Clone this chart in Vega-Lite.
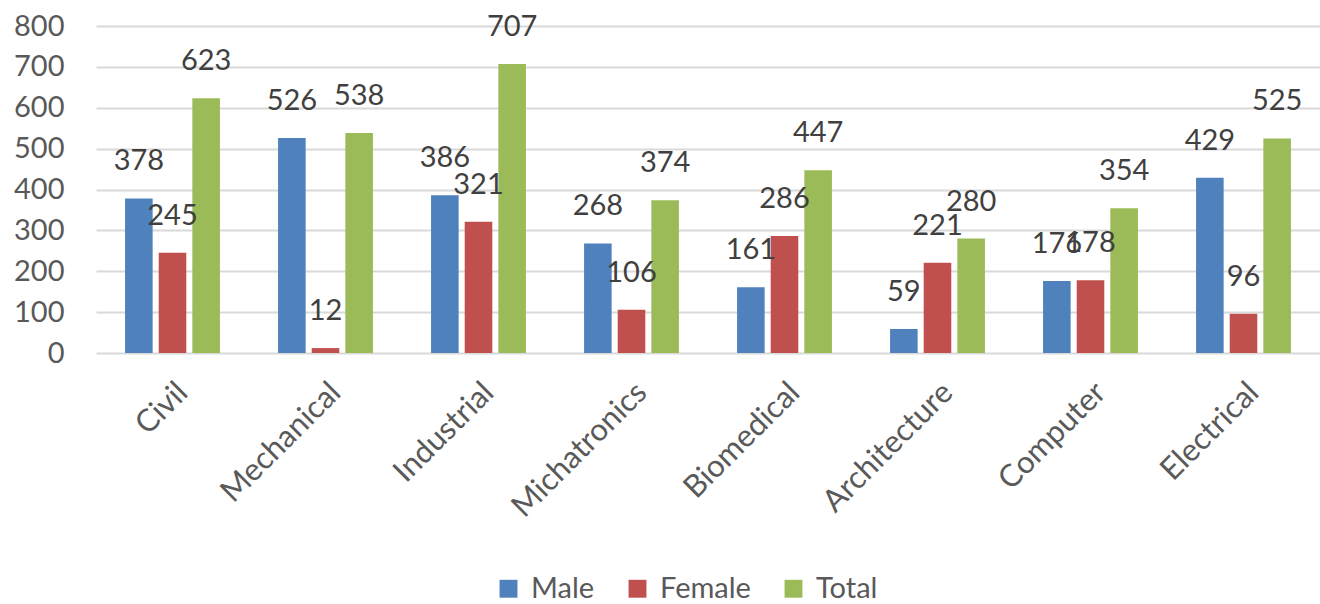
{
  "$schema": "https://vega.github.io/schema/vega-lite/v6.json",
  "width": 1224,
  "height": 327,
  "autosize": {"type": "none"},
  "padding": {"left": 96, "top": 26, "right": 0, "bottom": 251},
  "background": "white",
  "config": {
    "view": {"stroke": null},
    "font": "Lato"
  },
  "data": {
    "values": [
      {"dept": "Civil", "series": "Male", "value": 378},
      {"dept": "Civil", "series": "Female", "value": 245},
      {"dept": "Civil", "series": "Total", "value": 623},
      {"dept": "Mechanical", "series": "Male", "value": 526},
      {"dept": "Mechanical", "series": "Female", "value": 12},
      {"dept": "Mechanical", "series": "Total", "value": 538},
      {"dept": "Industrial", "series": "Male", "value": 386},
      {"dept": "Industrial", "series": "Female", "value": 321},
      {"dept": "Industrial", "series": "Total", "value": 707},
      {"dept": "Michatronics", "series": "Male", "value": 268},
      {"dept": "Michatronics", "series": "Female", "value": 106},
      {"dept": "Michatronics", "series": "Total", "value": 374},
      {"dept": "Biomedical", "series": "Male", "value": 161},
      {"dept": "Biomedical", "series": "Female", "value": 286},
      {"dept": "Biomedical", "series": "Total", "value": 447},
      {"dept": "Architecture", "series": "Male", "value": 59},
      {"dept": "Architecture", "series": "Female", "value": 221},
      {"dept": "Architecture", "series": "Total", "value": 280},
      {"dept": "Computer", "series": "Male", "value": 176},
      {"dept": "Computer", "series": "Female", "value": 178},
      {"dept": "Computer", "series": "Total", "value": 354},
      {"dept": "Electrical", "series": "Male", "value": 429},
      {"dept": "Electrical", "series": "Female", "value": 96},
      {"dept": "Electrical", "series": "Total", "value": 525}
    ]
  },
  "encoding": {
    "x": {
      "field": "dept",
      "type": "nominal",
      "sort": null,
      "scale": {"paddingInner": 0.38, "paddingOuter": 0.19},
      "axis": {
        "title": null,
        "labelAngle": -45,
        "labelFontSize": 31,
        "labelColor": "#595959",
        "labelPadding": 24,
        "labelLimit": 400,
        "domain": false,
        "ticks": false
      }
    },
    "xOffset": {
      "field": "series",
      "type": "nominal",
      "sort": ["Male", "Female", "Total"],
      "scale": {"paddingInner": 0.18}
    },
    "y": {
      "field": "value",
      "type": "quantitative",
      "scale": {"domain": [0, 800], "nice": false},
      "axis": {
        "title": null,
        "values": [0, 100, 200, 300, 400, 500, 600, 700, 800],
        "labelFontSize": 29,
        "labelColor": "#595959",
        "labelPadding": 32,
        "domain": false,
        "ticks": false,
        "gridColor": "#d9d9d9",
        "gridWidth": 2
      }
    }
  },
  "layer": [
    {
      "mark": {"type": "bar"},
      "encoding": {
        "color": {
          "field": "series",
          "type": "nominal",
          "sort": ["Male", "Female", "Total"],
          "scale": {"domain": ["Male", "Female", "Total"], "range": ["#4F81BD", "#C0504D", "#9BBB59"]},
          "legend": {
            "title": null,
            "orient": "none",
            "direction": "horizontal",
            "legendX": 398,
            "legendY": 548,
            "symbolType": "square",
            "symbolSize": 320,
            "symbolStrokeWidth": 0,
            "labelFontSize": 29,
            "labelColor": "#595959",
            "labelOffset": 8,
            "columnPadding": 28
          }
        }
      }
    },
    {
      "mark": {"type": "text", "dy": -28, "baseline": "alphabetic", "fontSize": 29, "color": "#404040"},
      "encoding": {
        "text": {"field": "value", "type": "quantitative"}
      }
    }
  ]
}
